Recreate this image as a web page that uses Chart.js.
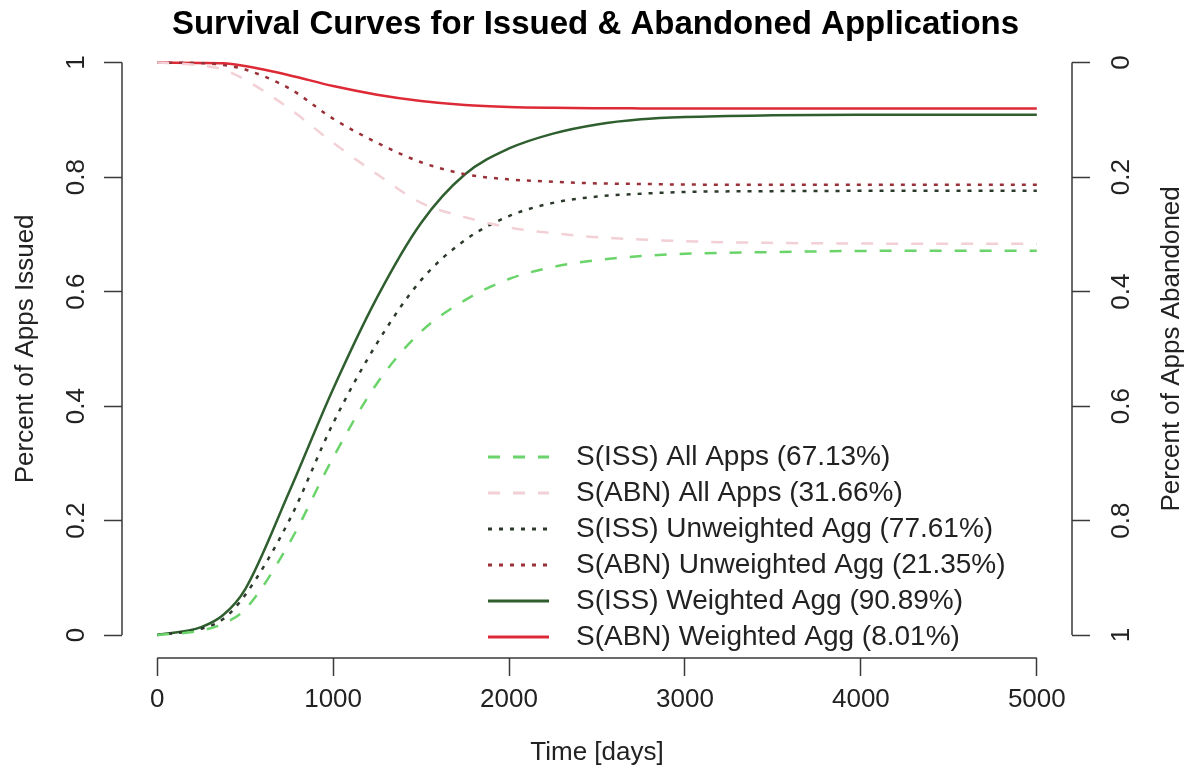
<!DOCTYPE html>
<html>
<head>
<meta charset="utf-8">
<title>Survival Curves</title>
<script src="https://cdn.jsdelivr.net/npm/chart.js@4.4.1/dist/chart.umd.min.js"></script>
<style>
  html, body { margin: 0; padding: 0; background: #fff; }
  canvas { display: block; }
</style>
</head>
<body>
<canvas id="survival-chart" width="1191" height="776"></canvas>
<script>
// time points (days)
var days = [0, 250, 375, 500, 750, 1000, 1250, 1500, 1750, 2000, 2250, 2500, 2750, 3000, 3500, 4000, 4500, 5000];

// issued share (left axis)
var issAll = [0, 0.008, 0.02, 0.045, 0.16, 0.31, 0.44, 0.53, 0.585, 0.622, 0.643, 0.655, 0.662, 0.666, 0.669, 0.671, 0.6713, 0.6713];
var issUnweighted = [0, 0.011, 0.028, 0.07, 0.2, 0.37, 0.51, 0.62, 0.69, 0.732, 0.755, 0.766, 0.771, 0.774, 0.7755, 0.776, 0.7761, 0.7761];
var issWeighted = [0, 0.014, 0.035, 0.08, 0.25, 0.43, 0.59, 0.72, 0.805, 0.85, 0.876, 0.892, 0.901, 0.905, 0.908, 0.909, 0.9089, 0.9089];

// abandoned share (right axis, reversed)
var abnAll = [0, 0.005, 0.012, 0.03, 0.08, 0.14, 0.195, 0.245, 0.27, 0.288, 0.298, 0.305, 0.309, 0.312, 0.315, 0.316, 0.3166, 0.3166];
var abnUnweighted = [0, 0.001, 0.004, 0.012, 0.045, 0.098, 0.14, 0.174, 0.195, 0.204, 0.208, 0.211, 0.212, 0.213, 0.2135, 0.2135, 0.2135, 0.2135];
var abnWeighted = [0, 0.0005, 0.001, 0.006, 0.022, 0.041, 0.056, 0.067, 0.074, 0.0775, 0.079, 0.0797, 0.08, 0.0801, 0.0801, 0.0801, 0.0801, 0.0801];

var seriesLabels = [
    "S(ISS) All Apps (67.13%)",
    "S(ABN) All Apps (31.66%)",
    "S(ISS) Unweighted Agg (77.61%)",
    "S(ABN) Unweighted Agg (21.35%)",
    "S(ISS) Weighted Agg (90.89%)",
    "S(ABN) Weighted Agg (8.01%)"
];

var xTicks = [0, 1000, 2000, 3000, 4000, 5000];
var xTickLabels = ["0", "1000", "2000", "3000", "4000", "5000"];
var yTicks = [0, 0.2, 0.4, 0.6, 0.8, 1];
var yTickLabels = ["0", "0.2", "0.4", "0.6", "0.8", "1"];

var FONT = "'Liberation Sans', Arial, Helvetica, sans-serif";
var AXIS_COLOR = "#3a3a3a";

function pts(values) {
    return days.map(function (d, i) { return { x: d, y: values[i] }; });
}

function lineSet(label, values, color, dash, axis) {
    return {
        label: label,
        data: pts(values),
        yAxisID: axis,
        borderColor: color,
        borderWidth: 2.5,
        borderDash: dash,
        pointRadius: 0,
        fill: false,
        cubicInterpolationMode: "monotone"
    };
}

var dashed = [12, 13];
var dotted = [4, 7];

var datasets = [
    lineSet(seriesLabels[0], issAll, "#6ad46a", dashed, "y"),
    lineSet(seriesLabels[1], abnAll, "#f2d0d5", dashed, "y2"),
    lineSet(seriesLabels[2], issUnweighted, "#2c3a2c", dotted, "y"),
    lineSet(seriesLabels[3], abnUnweighted, "#9a3038", dotted, "y2"),
    lineSet(seriesLabels[4], issWeighted, "#2f5f2f", [], "y"),
    lineSet(seriesLabels[5], abnWeighted, "#dd2a36", [], "y2")
];

function setTicks(values) {
    return function (scale) {
        scale.ticks = values.map(function (v) { return { value: v }; });
    };
}

// R style axes: line only between first and last tick, rotated y labels
var rAxes = {
    id: "rAxes",
    afterDraw: function (chart) {
        var ctx = chart.ctx;
        var area = chart.chartArea;
        var sx = chart.scales.x, sy = chart.scales.y, sy2 = chart.scales.y2;
        ctx.save();
        ctx.strokeStyle = AXIS_COLOR;
        ctx.lineWidth = 1.5;
        ctx.beginPath();
        ctx.moveTo(sx.getPixelForValue(xTicks[0]), area.bottom);
        ctx.lineTo(sx.getPixelForValue(xTicks[xTicks.length - 1]), area.bottom);
        ctx.moveTo(area.left, sy.getPixelForValue(yTicks[0]));
        ctx.lineTo(area.left, sy.getPixelForValue(yTicks[yTicks.length - 1]));
        ctx.moveTo(area.right, sy2.getPixelForValue(yTicks[0]));
        ctx.lineTo(area.right, sy2.getPixelForValue(yTicks[yTicks.length - 1]));
        ctx.stroke();

        ctx.fillStyle = "#222";
        ctx.font = "26px " + FONT;
        ctx.textAlign = "center";
        ctx.textBaseline = "middle";
        yTicks.forEach(function (v, i) {
            [[sy, area.left - 45], [sy2, area.right + 50]].forEach(function (p) {
                ctx.save();
                ctx.translate(p[1], p[0].getPixelForValue(v));
                ctx.rotate(-Math.PI / 2);
                ctx.fillText(yTickLabels[i], 0, 0);
                ctx.restore();
            });
        });

        // right axis title, read bottom to top as in the original
        ctx.save();
        ctx.translate(area.right + 100, (area.top + area.bottom) / 2);
        ctx.rotate(-Math.PI / 2);
        ctx.fillText("Percent of Apps Abandoned", 0, 0);
        ctx.restore();

        // legend inside the plot
        var lx = 488, ty = 457, step = 36;
        chart.data.datasets.forEach(function (ds, i) {
            var yy = ty + i * step;
            ctx.save();
            ctx.strokeStyle = ds.borderColor;
            ctx.lineWidth = 3;
            ctx.setLineDash(ds.borderDash);
            ctx.beginPath();
            ctx.moveTo(lx, yy);
            ctx.lineTo(lx + 61, yy);
            ctx.stroke();
            ctx.restore();
            ctx.textAlign = "left";
            ctx.font = "28px " + FONT;
            ctx.fillText(ds.label, lx + 88, yy);
        });
        ctx.restore();
    }
};

var tickGrid = {
    drawOnChartArea: false,
    drawTicks: true,
    tickLength: 18,
    tickWidth: 1.5,
    color: AXIS_COLOR
};

new Chart(document.getElementById("survival-chart").getContext("2d"), {
    type: "line",
    data: { datasets: datasets },
    options: {
        responsive: false,
        animation: false,
        layout: { padding: 0 },
        plugins: {
            legend: { display: false },
            tooltip: { enabled: false },
            title: {
                display: true,
                text: "Survival Curves for Issued & Abandoned Applications",
                color: "#000",
                font: { family: FONT, size: 33, weight: "bold", lineHeight: 0.9 },
                padding: { top: 10, bottom: 0 }
            }
        },
        scales: {
            x: {
                type: "linear",
                min: -200,
                max: 5200,
                afterBuildTicks: setTicks(xTicks),
                afterFit: function (s) { s.height = 118; },
                border: { display: false },
                grid: tickGrid,
                ticks: {
                    color: "#222",
                    padding: 8,
                    maxRotation: 0,
                    font: { family: FONT, size: 26 },
                    callback: function (v, i) { return xTickLabels[i]; }
                },
                title: {
                    display: true,
                    text: "Time [days]",
                    color: "#222",
                    font: { family: FONT, size: 26 },
                    padding: { top: 0, bottom: 8 }
                }
            },
            y: {
                position: "left",
                min: -0.04,
                max: 1.04,
                afterBuildTicks: setTicks(yTicks),
                afterFit: function (s) { s.width = 122; },
                border: { display: false },
                grid: tickGrid,
                ticks: { display: false },
                title: {
                    display: true,
                    text: "Percent of Apps Issued",
                    color: "#222",
                    font: { family: FONT, size: 26 },
                    padding: { top: 10, bottom: 0 }
                }
            },
            y2: {
                position: "right",
                reverse: true,
                min: -0.04,
                max: 1.04,
                afterBuildTicks: setTicks(yTicks),
                afterFit: function (s) { s.width = 119; },
                border: { display: false },
                grid: tickGrid,
                ticks: { display: false }
            }
        }
    },
    plugins: [rAxes]
});
</script>
</body>
</html>
